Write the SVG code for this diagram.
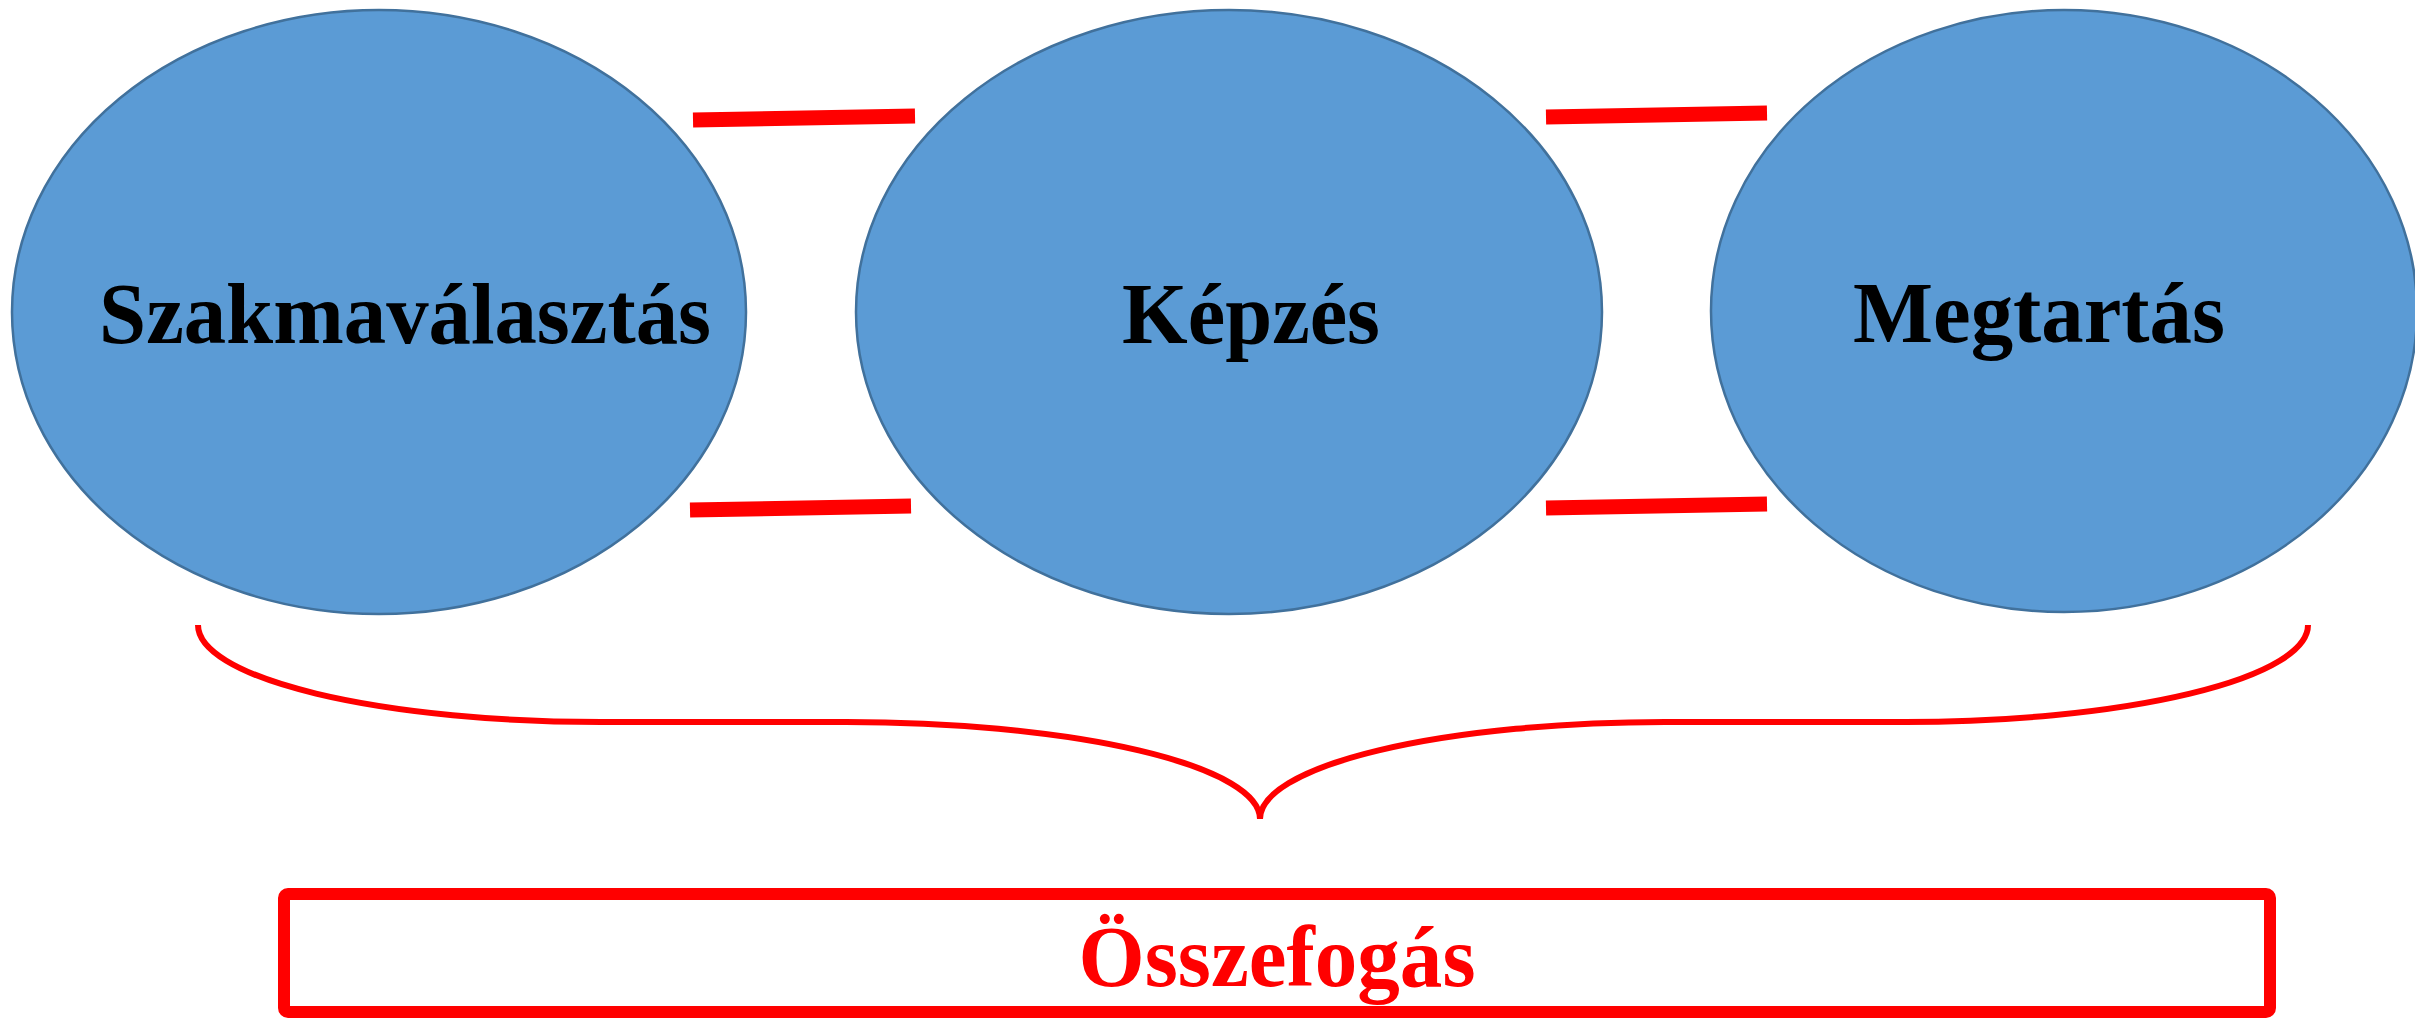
<svg xmlns="http://www.w3.org/2000/svg" width="2415" height="1018" viewBox="0 0 2415 1018">
<style>
.node{fill:#5B9BD5;stroke:#41719C;stroke-width:2.5}
.lbl{font-family:"Liberation Serif","Times New Roman",serif;font-weight:bold;font-size:87px;fill:#000;text-anchor:middle}
.bar{stroke:#FF0000;stroke-width:15;fill:none}
.brace{stroke:#FF0000;stroke-width:6;fill:none}
.red{fill:#FF0000}
</style>
<rect width="2415" height="1018" fill="#fff"/>
<g id="connectors">
<line class="bar" x1="693" y1="120" x2="915" y2="116"/>
<line class="bar" x1="690" y1="510" x2="911" y2="506"/>
<line class="bar" x1="1546" y1="117" x2="1767" y2="113"/>
<line class="bar" x1="1546" y1="508" x2="1767" y2="504"/>
<path id="brace" class="brace" d="M198,625 A403,97 0 0 0 601,722 L846,722 A414,97 0 0 1 1260,819 A405,97 0 0 1 1665,722 L1905,722 A403,97 0 0 0 2308,625"/>
</g>
<g id="node-szakmavalasztas">
<ellipse class="node" cx="379" cy="312" rx="367" ry="302"/>
<text class="lbl" x="405" y="343" textLength="612" lengthAdjust="spacingAndGlyphs">Szakmaválasztás</text>
</g>
<g id="node-kepzes">
<ellipse class="node" cx="1229" cy="312" rx="373" ry="302"/>
<text class="lbl" x="1251" y="343" textLength="258" lengthAdjust="spacingAndGlyphs">Képzés</text>
</g>
<g id="node-megtartas">
<ellipse class="node" cx="2064" cy="311" rx="353" ry="301"/>
<text class="lbl" x="2039" y="342" textLength="372" lengthAdjust="spacingAndGlyphs">Megtartás</text>
</g>
<g id="node-osszefogas">
<rect x="284" y="894" width="1986" height="118" rx="4" fill="#fff" stroke="#FF0000" stroke-width="12"/>
<text class="lbl red" x="1277" y="986" textLength="397" lengthAdjust="spacingAndGlyphs">Összefogás</text>
</g>
</svg>
